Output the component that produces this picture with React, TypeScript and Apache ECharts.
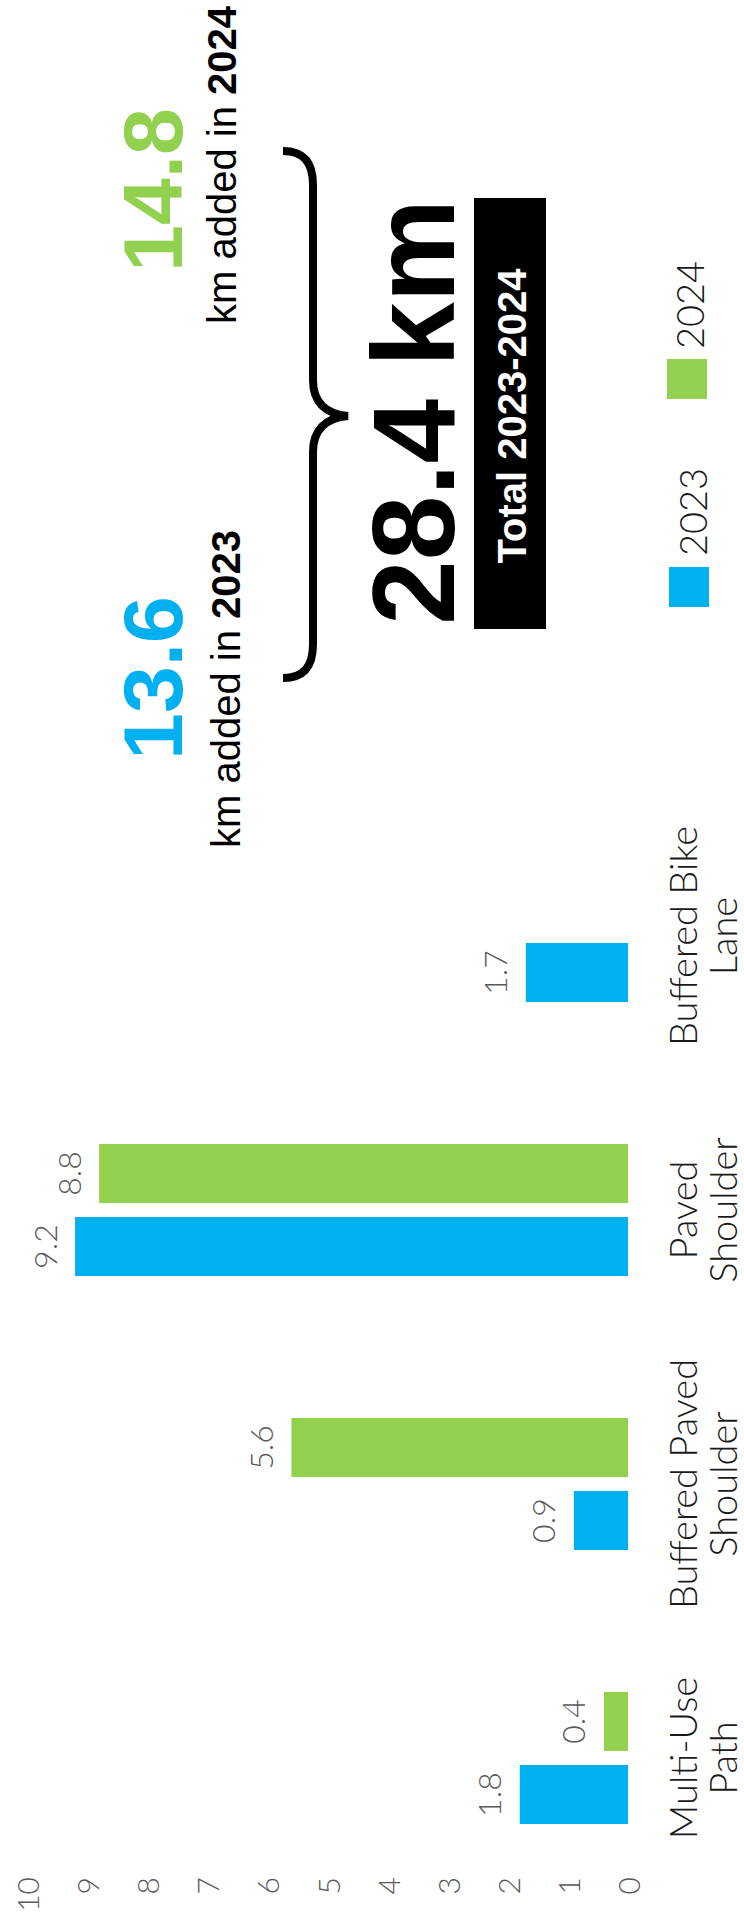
import React, { useEffect, useRef } from 'react';
import * as echarts from 'echarts';

// ---- data ----
const categories = ['Multi-Use\nPath', 'Buffered Paved\nShoulder', 'Paved\nShoulder', 'Buffered Bike\nLane'];
const seriesNames = ['2023', '2024'];
const values2023 = [1.8, 0.9, 9.2, 1.7];
const values2024: (number | null)[] = [0.4, 5.6, 8.8, null];
const seriesColors = ['#00B0F0', '#92D050'];
const axisMin = 0;
const axisMax = 10;
const axisInterval = 1;
const added2023 = 13.6;
const added2024 = 14.8;
const totalKm = 28.4;
const totalLabel = 'Total 2023-2024';

const BRACE_D =
  'M 283 151 C 303 151 313 162 313 185 L 313 380 C 313 402 325 414 348 416 C 325 418 313 430 313 452 L 313 644 C 313 667 303 678 283 678';
echarts.graphic.registerShape('brace', echarts.graphic.extendPath(BRACE_D, {}) as any);

const LIGHT = 'Lato';
const BOLD = '"Liberation Sans", Arial, sans-serif';
const R = Math.PI / 2;

export default function App() {
  const ref = useRef<HTMLDivElement>(null);
  useEffect(() => {
    if (!ref.current) return;
    const chart = echarts.init(ref.current, undefined, { renderer: 'svg' });
    const barLabel = {
      show: true,
      position: 'left',
      distance: 15,
      rotate: 90,
      align: 'center',
      verticalAlign: 'bottom',
      fontSize: 32,
      fontFamily: LIGHT,
      fontWeight: 300,
      color: '#595959',
      formatter: (p: any) => (p.value == null ? '' : String(p.value)),
    };
    chart.setOption({
      animation: false,
      backgroundColor: '#ffffff',
      grid: {
        left: 27,
        right: 116,
        top: 799,
        bottom: 36,
        containLabel: false,
        outerBoundsMode: 'none',
      },
      xAxis: {
        type: 'value',
        min: axisMin,
        max: axisMax,
        interval: axisInterval,
        inverse: true,
        position: 'bottom',
        axisLine: { show: false },
        axisTick: { show: false },
        splitLine: { show: false },
        axisLabel: {
          rotate: 90,
          margin: -18,
          align: 'right',
          verticalAlign: 'middle',
          fontSize: 30,
          fontFamily: LIGHT,
          fontWeight: 300,
          color: '#595959',
        },
      },
      yAxis: {
        type: 'category',
        data: categories,
        position: 'right',
        axisLine: { show: false },
        axisTick: { show: false },
        splitLine: { show: false },
        axisLabel: {
          interval: 0,
          rotate: 90,
          margin: 34,
          align: 'center',
          verticalAlign: 'top',
          fontSize: 38,
          lineHeight: 40,
          fontFamily: LIGHT,
          fontWeight: 300,
          color: '#1a1a1a',
        },
      },
      series: [
        {
          name: seriesNames[1],
          type: 'bar',
          data: values2024,
          barWidth: 59,
          barGap: '24%',
          itemStyle: { color: seriesColors[1] },
          label: barLabel,
        },
        {
          name: seriesNames[0],
          type: 'bar',
          data: values2023,
          barWidth: 59,
          barGap: '24%',
          itemStyle: { color: seriesColors[0] },
          label: barLabel,
        },
      ],
      graphic: [
        {
          type: 'text',
          x: 153,
          y: 190,
          rotation: R,
          style: {
            text: added2024.toFixed(1),
            fontSize: 84,
            fontWeight: 'bold',
            fontFamily: BOLD,
            fill: seriesColors[1],
            align: 'center',
            verticalAlign: 'middle',
          },
        },
        {
          type: 'text',
          x: 222,
          y: 165,
          rotation: R,
          style: {
            text: '{a|km added in }{b|' + seriesNames[1] + '}',
            fontSize: 40,
            fontFamily: BOLD,
            fill: '#000',
            align: 'center',
            verticalAlign: 'middle',
            rich: {
              a: { fontSize: 40, fontFamily: BOLD, fill: '#000' },
              b: { fontSize: 40, fontFamily: BOLD, fontWeight: 'bold', fill: '#000' },
            },
          },
        },
        {
          type: 'text',
          x: 153,
          y: 678,
          rotation: R,
          style: {
            text: added2023.toFixed(1),
            fontSize: 84,
            fontWeight: 'bold',
            fontFamily: BOLD,
            fill: seriesColors[0],
            align: 'center',
            verticalAlign: 'middle',
          },
        },
        {
          type: 'text',
          x: 226,
          y: 689,
          rotation: R,
          style: {
            text: '{a|km added in }{b|' + seriesNames[0] + '}',
            fontSize: 40,
            fontFamily: BOLD,
            fill: '#000',
            align: 'center',
            verticalAlign: 'middle',
            rich: {
              a: { fontSize: 40, fontFamily: BOLD, fill: '#000' },
              b: { fontSize: 40, fontFamily: BOLD, fontWeight: 'bold', fill: '#000' },
            },
          },
        },
        {
          type: 'brace',
          x: 0,
          y: 0,
          style: { stroke: '#000', lineWidth: 8, fill: 'none' },
        },
        {
          type: 'text',
          x: 414,
          y: 412,
          rotation: R,
          style: {
            text: totalKm.toFixed(1) + ' km',
            fontSize: 116,
            fontWeight: 'bold',
            fontFamily: BOLD,
            fill: '#000',
            align: 'center',
            verticalAlign: 'middle',
          },
        },
        {
          type: 'rect',
          shape: { x: 474, y: 198, width: 72, height: 431 },
          style: { fill: '#000' },
        },
        {
          type: 'text',
          x: 512,
          y: 416,
          rotation: R,
          style: {
            text: totalLabel,
            fontSize: 40,
            fontWeight: 'bold',
            fontFamily: BOLD,
            fill: '#fff',
            align: 'center',
            verticalAlign: 'middle',
          },
        },
        {
          type: 'rect',
          shape: { x: 669, y: 567, width: 40, height: 40 },
          style: { fill: seriesColors[0] },
        },
        {
          type: 'text',
          x: 692,
          y: 512,
          rotation: R,
          style: {
            text: seriesNames[0],
            fontSize: 38,
            fontWeight: 300,
            fontFamily: LIGHT,
            fill: '#1a1a1a',
            align: 'center',
            verticalAlign: 'middle',
          },
        },
        {
          type: 'rect',
          shape: { x: 667, y: 359, width: 40, height: 40 },
          style: { fill: seriesColors[1] },
        },
        {
          type: 'text',
          x: 689,
          y: 305,
          rotation: R,
          style: {
            text: seriesNames[1],
            fontSize: 38,
            fontWeight: 300,
            fontFamily: LIGHT,
            fill: '#1a1a1a',
            align: 'center',
            verticalAlign: 'middle',
          },
        },
      ],
    });
    return () => chart.dispose();
  }, []);
  return (
    <div
      ref={ref}
      style={{ position: 'absolute', left: 0, top: 0, width: 744, height: 1931 }}
    />
  );
}
